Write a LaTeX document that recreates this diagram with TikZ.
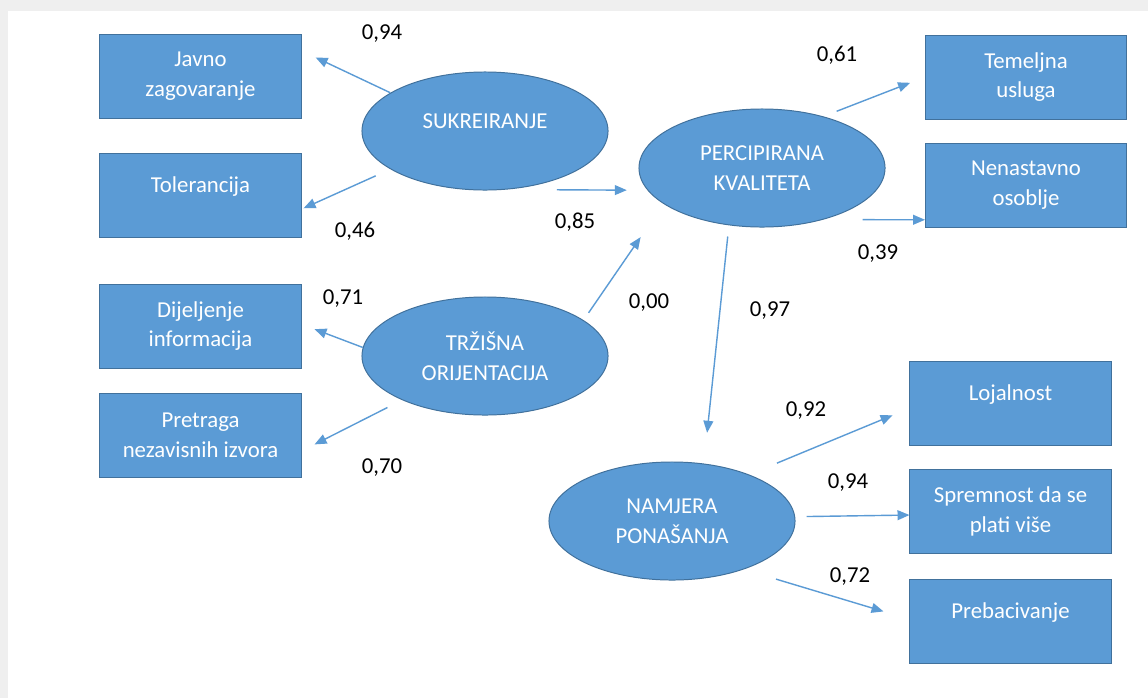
\documentclass[tikz,border=0pt]{standalone}
\usepackage{fontspec}
\setmainfont{Carlito}
\usepackage{tikz}
\usetikzlibrary{arrows.meta,shapes.geometric,positioning}

\definecolor{boxblue}{HTML}{5B9BD5}
\definecolor{edgeblue}{HTML}{41719C}
\definecolor{shadegray}{HTML}{EFEFEF}

\begin{document}
\begin{tikzpicture}[x=0.025cm,y=-0.025cm,->,>={Triangle[length=8.5pt,width=7pt]},
	every edge/.style={draw=boxblue,line width=1pt},
	latent node/.style={ellipse,draw=edgeblue,fill=boxblue,text=white,line width=0.7pt,minimum width=6.15cm,minimum height=2.95cm,inner sep=0pt,font=\fontsize{16.2}{21}\selectfont},
	item node/.style={rectangle,draw=edgeblue,fill=boxblue,text=white,line width=0.7pt,minimum width=5.025cm,minimum height=2.1cm,font=\fontsize{16.2}{21}\selectfont},
	oneline/.style={text height=11pt,text depth=15pt},
	weight/.style={inner sep=0pt,text=black,font=\fontsize{16.2}{21}\selectfont}]

	% page
	\fill[shadegray] (0,0) rectangle (1148,698);
	\fill[white] (8,11) rectangle (1148,698);

	% latent variables
	\node[latent node,oneline] (suk) at (485,131) {SUKREIRANJE};
	\node[latent node,align=center] (trz) at (485,356) {TRŽIŠNA\\ORIJENTACIJA};
	\node[latent node,align=center] (perc) at (762,168) {PERCIPIRANA\\KVALITETA};
	\node[latent node,align=center] (nam) at (672,521) {NAMJERA\\PONAŠANJA};

	% indicators
	\node[item node,align=center] (javno) at (200.5,76) {Javno\\zagovaranje};
	\node[item node,oneline] (tol) at (200.5,195) {Tolerancija};
	\node[item node,align=center] (dij) at (200.5,326) {Dijeljenje\\informacija};
	\node[item node,align=center] (pret) at (200.5,435) {Pretraga\\nezavisnih izvora};
	\node[item node,align=center] (tem) at (1026,77) {Temeljna\\usluga};
	\node[item node,align=center] (nen) at (1026,185) {Nenastavno\\osoblje};
	\node[item node,oneline] (loj) at (1010.5,403) {Lojalnost};
	\node[item node,align=center] (spr) at (1010.5,511.5) {Spremnost da se\\plati više};
	\node[item node,oneline] (preb) at (1010.5,621) {Prebacivanje};

	\path
	(suk.158) edge[shorten >=11.1pt] (javno.14)
	(suk.-158) edge[shorten <=11.4pt,shorten >=1.6pt] (tol.-8)
	(suk.-69) edge[shorten <=35.2pt,shorten >=14.7pt] (perc.-169.6)
	(trz.20) edge[shorten <=6.3pt,shorten >=28.7pt] (perc.-160)
	(trz.176) edge[shorten >=9.9pt] (dij.1)
	(trz.-152.5) edge[shorten <=11.7pt,shorten >=10.4pt] (pret.-9.5)
	(perc.40.5) edge[shorten <=10pt,shorten >=11.4pt] (tem.180)
	(perc.-40.5) edge[shorten <=27.8pt] (nen.-161)
	(perc.-120.3) edge[shorten <=8pt,shorten >=22pt] (nam.61.8)
	(nam.31.8) edge[shorten <=21.3pt,shorten >=13pt] (loj.-177)
	(nam.2.3) edge[shorten <=8.1pt] (spr.-178)
	(nam.-34.3) edge[shorten <=23.9pt,shorten >=19.3pt] (preb.179.4);

	% loadings
	\node[weight] (w1) at (382,34) {0,94};
	\node[weight] (w2) at (355,231) {0,46};
	\node[weight] (w3) at (575,222) {0,85};
	\node[weight] (w4) at (649,303) {0,00};
	\node[weight] (w5) at (343,299) {0,71};
	\node[weight] (w6) at (382,468) {0,70};
	\node[weight] (w7) at (837,55) {0,61};
	\node[weight] (w8) at (878,254) {0,39};
	\node[weight] (w9) at (770,311) {0,97};
	\node[weight] (w10) at (806,411) {0,92};
	\node[weight] (w11) at (848,483) {0,94};
	\node[weight] (w12) at (850,577) {0,72};
\end{tikzpicture}
\end{document}
